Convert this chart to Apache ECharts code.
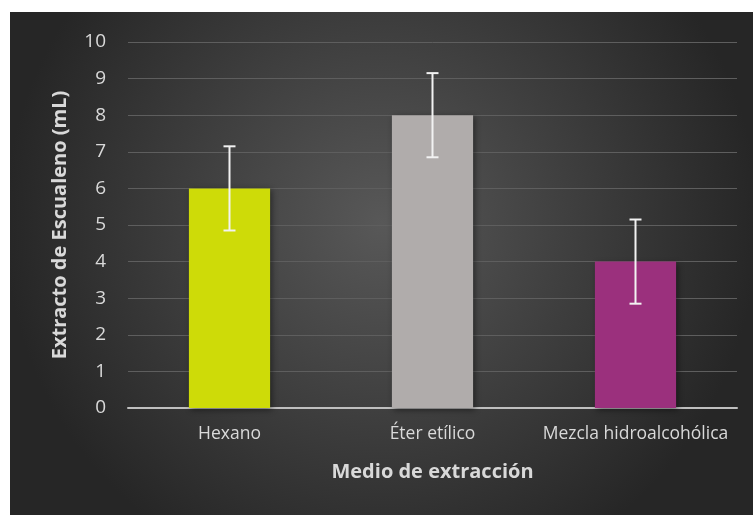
<!DOCTYPE html>
<html>
<head>
<meta charset="utf-8">
<script src="https://cdn.jsdelivr.net/npm/echarts@6/dist/echarts.min.js"></script>
<style>
  html, body { margin: 0; padding: 0; background: #fff; }
  #chart { position: absolute; left: 10px; top: 12px; width: 743px; height: 503px; }
</style>
</head>
<body>
<div id="chart"></div>
<script>
// extraction medium vs squalene extract, with ± error bars
const categories = ["Hexano", "Éter etílico", "Mezcla hidroalcohólica"]
const values = [6, 8, 4]
const errors = [1.15, 1.15, 1.15]
const barColors = ["#cedb08", "#b0acab", "#9b307d"]

const chart = echarts.init(document.getElementById("chart"))

const font = "'Open Sans', 'Noto Sans', sans-serif"

chart.setOption({
  backgroundColor: {
    type: "radial", x: 0.5, y: 0.42, r: 0.75,
    colorStops: [
      { offset: 0, color: "#585858" },
      { offset: 1, color: "#262626" },
    ],
  },
  animation: false,
  grid: { left: 118, right: 16, top: 30, bottom: 107 },
  xAxis: {
    type: "category",
    data: categories,
    name: "Medio de extracción",
    nameLocation: "middle",
    nameGap: 54,
    nameTextStyle: { color: "#d9d9d9", fontSize: 20, fontWeight: "bold", fontFamily: font },
    axisLine: { lineStyle: { color: "#bfbfbf", width: 2 } },
    axisTick: { show: false },
    axisLabel: { color: "#d9d9d9", fontSize: 17.5, margin: 17, interval: 0, hideOverlap: false, fontFamily: font },
  },
  yAxis: {
    type: "value",
    min: 0, max: 10, interval: 1,
    name: "Extracto de Escualeno (mL)",
    nameLocation: "middle",
    nameGap: 58,
    nameRotate: 90,
    nameTextStyle: { color: "#d9d9d9", fontSize: 20, fontWeight: "bold", fontFamily: font },
    axisLine: { show: false },
    axisTick: { show: false },
    axisLabel: { color: "#d9d9d9", fontSize: 19, margin: 22, fontFamily: font },
    splitLine: { lineStyle: { color: "#5e5e5e", width: 1 } },
  },
  series: [
    {
      type: "bar",
      data: values.map((v, i) => ({ value: v, itemStyle: { color: barColors[i] } })),
      barWidth: "40%",
      itemStyle: {
        shadowColor: "rgba(0,0,0,0.45)",
        shadowBlur: 6,
        shadowOffsetX: 2,
        shadowOffsetY: 2,
      },
    },
    {
      type: "custom",
      data: values.map((v, i) => [i, v - errors[i], v + errors[i]]),
      z: 5,
      renderItem: (params, api) => {
        const lo = api.coord([api.value(0), api.value(1)])
        const hi = api.coord([api.value(0), api.value(2)])
        const half = 6
        const style = { stroke: "#f2f2f2", lineWidth: 2 }
        return {
          type: "group",
          children: [
            { type: "line", shape: { x1: hi[0], y1: hi[1], x2: lo[0], y2: lo[1] }, style },
            { type: "line", shape: { x1: hi[0] - half, y1: hi[1], x2: hi[0] + half, y2: hi[1] }, style },
            { type: "line", shape: { x1: lo[0] - half, y1: lo[1], x2: lo[0] + half, y2: lo[1] }, style },
          ],
        }
      },
    },
  ],
})
</script>
</body>
</html>
